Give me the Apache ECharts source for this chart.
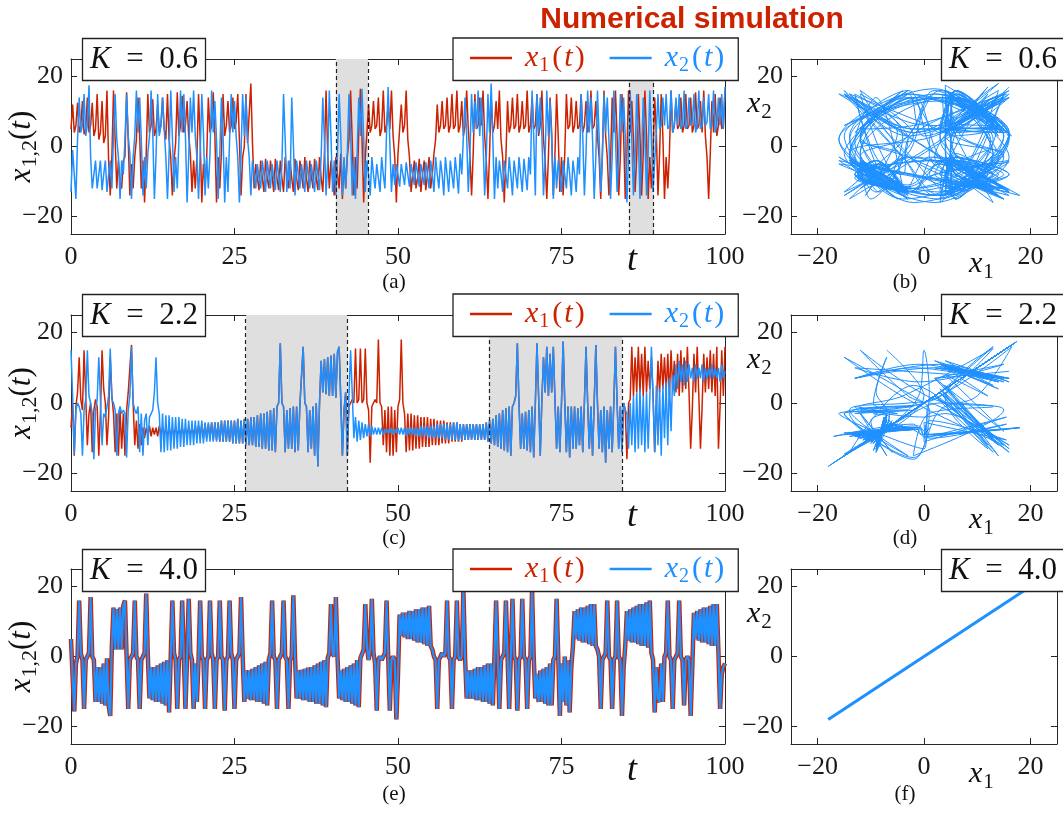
<!DOCTYPE html>
<html><head><meta charset="utf-8">
<script src="https://cdn.jsdelivr.net/npm/echarts@6/dist/echarts.min.js"></script>
<style>html,body{margin:0;padding:0;background:#fff}#c{width:1063px;height:813px}</style>
</head><body><div id="c"></div>
<script>
// ---------- data (sampled every DT time units, t = 0 .. 100) ----------
const DT = 0.25;
const timeTicks = [0, 25, 50, 75, 100];
const valueTicks = [-20, 0, 20];
const kValues = ['0.6', '2.2', '4.0'];
const panelTags = ['(a)', '(b)', '(c)', '(d)', '(e)', '(f)'];
const shadeA = [[40.5, 45.4], [85.3, 89.1]];
const shadeC = [[26.7, 42.3], [63.9, 84.3]];

// K = 0.6
const x1a = [
5,12,4, 6,12.5,4, 6,13,3.5, 5,14,4,
6,12.5,3, 5,15,2, 4,13,1, 3,16,-4,
-14,-3,16, 2,-12,-4, -10,-12,-4, -3,15.5,2,
-14,-5,-12, -3,2,14, 3,-12,-4, -16,-2,15,
4,6,13.5, 3,5,12, 4,6,14, 5,2,15,
2,-3,-14, -4,1,15.5, 3,6,14.5, 4,6,13,
3,-2,-13, -4,-12,-3, 15,2,-16, -5,-11,-3,
14,4,6, 15.5,3,-16, -3,-12,-2, 15,3,6,
13,4,6, 14,5,7, 15,2,-14, -3,0,15,
1,1,18, 1,-12,-5, -9,-12.5,-4, -9,-13,-3.5,
-9,-12,-4, -8.5,-13,-3.5, -9,-12.5,-4, -9,-13,-3,
-8.5,-12,-4, -9,-13,-3.5, -9,-12.5,-4, -8,-12,-3,
-9,-13,-4, -8.5,-12,-3.5, -9,-12.5,-3, -9,-13,-2,
16,-2,-12, -4,-9,-14, -3,-8,-12, -2,-15,-4,
-12,-3,2, 16,2,-14, -3,-12,4, 16.5,2,-16,
-3,4,12, 4,6,13, 5,6,14, 3,5,16,
4,6,12, 5,16,3, -3,-16,-2, 5,12,4,
6,16,2, -3,-13,-8, -4,-12,-9, -3.5,-13,-8,
-4,-12.5,-8, -3,-12,-8, -2,2,12, 4,6,13,
5,6,14, 4,6,15, 5,6,16, 4,6,13,
3,6,16, 5,-3,-14, -2,15,5, 6,14,6,
16,3,-4, -15,-2,14, 4,6,13, 5,16,2,
-3,-16,-3, 13,4,6, 14,5,6, 15,4,6,
13,5,6, 16,4,6, 14,5,6, 15,3,6,
16,2,-4, -15,-3,14, 4,-14,-2, 15,3,-13,
-3,-14,-2, 15,5,6, 14,4,6, 13,5,6,
15,4,6, 13,4,6, 16,5,6, 13,3,-3,
-15,-2,16, 3,-3,-14, -4,14,4, 16,3,-14,
-3,15,3, -15,-2,16, 4,13,2, -13,-3,15,
3,-14,-2, 16,3,-15, -3,-12,-3, 14,4,-14,
-2,15,3, -15,-3,-12, -2,16,4, 6,13,5,
6,14,4, 6,15,5, 6,14,4, 6,15.5,5,
6,13,4, 16,3,-3, -15,-2,13, 4,15,3,
6,14,5,6,16];
const x2a = [
-13,-1,-8, -15,2,14, 4,6,15, 3,6,17.5,
-3,-12,-8, -4,-12,-8, -4,-12.5,-8, -4,-13,-8,
-4,-12,3, 15,2,-3, -15,-4,-8, 2,15,3,
-2,-15,-3, 3,16,4, 14,2,-14, -3,-12,-2,
3,16,4, -15,-3,15, 3,6,14, 5,-3,-15,
-2,16,3, -13,-3,-12, 2,16,4, 15,3,-16,
-3,14,4, 16,3,-3, -15,-2,15, 4,-14,-3,
-12,-2,16, 4,13,2, -15,-2,14, 3,-16,-3,
-13,2,15, 4,13,3, -3,-16,-2, 15,3,14,
2,-3,-14, -4,-8,-12, -5,-9,-12, -4,-8,-13,
-4,-8,-12, -5,-9,-12.5, -4,-8,-13, -5,15,2,
-13,-4,-12, 14,1,-14, -4,-8,-12, -5,-9,-13,
-4,-8,-12, -5,-9,-13, -4,-8,-12.5, -3,14,2,
-14,-4,16, 3,-13,-4, -14,-2,15, 3,-14,-3,
-12,-2,15, 4,-14,-3, -15,-2,14, 3,16.5,2,
-13,-4,-8, -14,-3,-8, -12,-5,-9, -13,-3,-8,
-12,4,17, 1,-13,-5, -11,-5,-8, -11.5,-5,-8,
-11,-4.5,-8, -11.5,-5,-8, -11,-4.5,-8, -11.5,-5,-8,
-11,-4.5,-8, -12,-4,-8, -13,-3,-8, -12,-4,-8,
-14,-3,-8, -13,-4,-8, -12,-3,-8, -13.5,-2,-8,
3,14,3, -13,-2,15, 4,13,5, 16,3,14,
2,-14,-3, 15,4,18, 2,-15,-3, -12,-4,-8,
-13,-4,-8, -12,-3,-8, -14,-4,-8, -12,-3,-8,
-13,-3.5,-8, -12.5,-3,-8, 16,3,-14, 15,4,14,
3,-14,-3, 16,3,13, 2,-15,-3, -12,-4,-8,
-13,-4,-8, -12,-3,-8, -14,-4,-8, -13,-3,-8,
15,3,-14, -2,16,4, 14,2,-15, -3,16,3,
-13,-3,15, 4,14,2, -15,-3,16, 3,-13,-2,
15,4,14, 3,-16,-3, 16,2,-14, -3,15,3,
-15,-3,14, 4,-14,-2, 16,3,-13, -4,4,15,
5,6,14, 6,15,5, 6,16,4, 6,14,6,
15,5,6, 16,5,6, 14,6,7, 15,4,6,
16,5,6, 14,6,7, 15,5,6, 16,4,6,
14,6,15,5,17];

// K = 2.2
const x1c = [
-7,0,-15,-1, 3,13,1,-2, 15,2,-12,-3, 0,-14,-2,1, -1,-15,-3,15,
4,0,-12,-4, 13,2,-3,-14, -3,-15,-2,-13, -3,-15,-2,3, 10,16.5,0,-12,
-5,-13,-6,-12, -7,-10,-7,-9, -6.5,-9.5,-7,-9, -7,-9.5,-6.5,-9, -7,-9,-7,-9.5,
-7,-9,-7.5,-9, -7,-9,-7.5,-8.5, -7,-9,-7.5,-9, -7,-9,-7,-9, -6.5,-9.5,-6.5,-9.5,
-6,-10,-6,-10, -6,-10,-5.5,-10.5, -5.5,-10.5,-5.5,-11, -5,-11,-5,-11, -5,-11,-5,-11.5,
-5,-11.5,-4.5,-11.5, -5,-11.5,-4.5,-12, -4.5,-12,-4,-12, -4,-12.5,-3.5,-12.5, -3,-13,-3,-13,
-2.5,-13.5,-2,-13.5, -1.5,-14,-1,0, 17,0,-1,-14, -2,-13,-1.5,-13, -1,-14,-1,-13.5,
-0.5,0,16,0, -1,-14,-2,-13, -1,-15,0,-18, 0,12,3,12.5, 2.5,13,2,13.5,
2,14,1.5,14.5, 16,1,-15,-2, 3,-15,-1,0, 1,0,15.5,0, 1,15.5,0,1,
15.5,0,-2,-17, -1,0,1,0, 18,0,-1,-12, -2,-14,-1,-15, -1,-15,-2,-14,
-1,1,18,0, -3,-14,-3,-13.5, -3,-13.5,-3.5,-13, -3.5,-13,-4,-12.5, -4,-12.5,-4,-12.5,
-4.5,-12,-4.5,-12, -5,-12,-5,-11.5, -5,-11.5,-5.5,-11.5, -5.5,-11,-5.5,-11, -5.5,-11,-6,-11,
-6,-10.5,-6,-10.5, -6,-10.5,-6,-10.5, -6,-10.5,-6,-10.5, -6,-10.5,-5.5,-11, -5,-11.5,-4.5,-12,
-3.5,-12.5,-3,-13, -2,-13.5,-1.5,-14, -1,-15,-1,0, 2,17,0,-13, -3,-13,-2.5,-13.5,
-2,-14,-1,-15.5, 0,17,2,-15, 1,13,3,16, 2,14,3,16, 1,-13,-1,-14,
0,17.5,0,-14, -1,-15.5,-1,-13, -1,-13,-1.5,-12, -1,-14,0,16, 0,-13,-1,-15,
0,16.5,0,-13, -2,-14,-1,-17, -2,-13,-1,-14, 0,16,0,-13, -1,-14,0,-2,
-16,0,1,16, 2,13,3,16, 3,14,2,16, 3,12,4,13, 2,-14,-2,12,
3,14,4,13, 3,14,2,15, 4,12,3,14, 2,15,3,13, 4,16,3,-13,
-2,14,3,16, 2,-13,-1,14, 3,13,4,15, 3,14,2,16, -13,-1,15,2,
16];
const x2c = [
15,2,-14.5,-2, 0,-1,-3,-15, -2,1,15,2, 0,-3,-16,-2, 1,13,1,-12,
-3,-4,-1,2, 15.5,1,0,-2, -15,-3,-1,-3, -2,-3,-15.5,-2, 2,16,0,-2,
-3,-1,-14,-3, -15,-5,-3,-12, -4,-3,-2,3, 13,0,-3,-14, -3,-14,-3.5,-13.5,
-3.5,-13.5,-4,-13, -4,-13,-4,-12.5, -4.5,-12.5,-4.5,-12, -5,-12,-5,-12, -5,-11.5,-5,-11.5,
-5,-11.5,-5.5,-11, -5.5,-11,-5.5,-11, -5.5,-11,-5.5,-11, -5,-11,-5,-11, -5,-11,-5,-11.5,
-5,-11.5,-4.5,-11.5, -5,-11.5,-4.5,-12, -4.5,-12,-4,-12, -4,-12.5,-3.5,-12.5, -3,-13,-3,-13,
-2.5,-13.5,-2,-13.5, -1.5,-14,-1,0, 17,0,-1,-14, -2,-13,-1.5,-13, -1,-14,-1,-13.5,
-0.5,0,16,0, -1,-14,-2,-13, -1,-15,0,-18, 0,12,3,12.5, 2.5,13,2,13.5,
2,14,1.5,14.5, 16,1,-15,-2, 3,-15,2,15, 3,-10,-4,-11, -5,-10.5,-5.5,-10,
-6,-9.5,-6,-9.5, -6.5,-9,-7,-9, -7,-9,-7,-9, -7.5,-8.5,-7.5,-8.5, -7,-9,-7.5,-8.5,
-7,-9,-7,-9, -7,-9.5,-7,-9, -7,-9,-7,-9.5, -7,-9.5,-6.5,-9.5, -6.5,-9.5,-6.5,-10,
-6.5,-10,-6.5,-10, -6,-10,-6,-10, -6,-10.5,-6,-10.5, -6,-10.5,-5.5,-10.5, -5.5,-11,-6,-10.5,
-6,-10.5,-6,-10.5, -6,-10.5,-6,-10.5, -6,-10.5,-6,-10.5, -6,-10.5,-5.5,-11, -5,-11.5,-4.5,-12,
-3.5,-12.5,-3,-13, -2,-13.5,-1.5,-14, -1,-15,-1,0, 2,17,0,-13, -3,-13,-2.5,-13.5,
-2,-14,-1,-15.5, 0,17,2,-15, 1,13,3,16, 2,14,3,16, 1,-13,-1,-14,
0,17.5,0,-14, -1,-15.5,-1,-13, -1,-13,-1.5,-12, -1,-14,0,16, 0,-13,-1,-15,
0,16.5,0,-13, -2,-14,-1,-17, -2,-13,-1,-14, 0,16,0,-13, -1,-14,0,-2,
-3,-13,0,-12, 2,-14,3,-13, 4,-12,2,-14, 3,-13,1,16, 2,-14,5,-12,
4,-15,5,-10, 6,-12,7,-8, 8,2,11,4, 12,6,11,5, 12,6,11,7,
10,6,11,7, 10,7,11,6, 10,7,10,7, 11,7,10,7, 10,6,11,7,
9];

// K = 4.0
const x1e = [
5,-6,-15.7,-2, 0,16,1,-1, -15,-1,0,1, 17,0,-1,-13, -3,-13,-3,-13.5,
-2,-14,-0.5,-14, -17,3,14,2, 13.5,2,14,2, 14.5,16,0,-15, -1,0,1,16,
0,-1,-15,-1, 0,1,18,0, -12,-3,-12.5,-3, -13,-2.5,-13,-2, -13.5,-1.5,-14,-1,
-16,0,16,1, -1,-15,-1,0, 16,0,-15,0, 16.5,1,-1,-15, -2,-13,-1,16,
0,-1,-15,-1, 0,16,1,-1, -15,-1,0,16, 0,-1,-15.5,-1, 0,16,1,-1,
-15,-1,0,1, 17,0,-13,-4, -12,-4,-12.5,-3.5, -12.5,-3,-13,-2.5, -13,-2,-13.5,-1.5,
-14,-1,1,16, 0,-1,-15,-1, 0,1,16,0, -1,-15,-1,0, 17.5,0,-12,-4,
-12,-3.8,-12.5,-3.5, -12.5,-3.2,-13,-3, -13,-2.5,-13.5,-2, -13.5,-1.5,-14,-1, -14.5,-0.5,1,15,
1,0,17,0, -12,-4,-12.5,-3.5, -13,-3,-13,-2.5, -13.5,-2,-14,-1, -14.5,-0.5,0,2,
15,3,-1,2, 16.5,1,-2,-15.5, -1,0,-1,0, 1,16,0,-15.5, -1,0,-1,-18,
-5,12,6,12.5, 5.5,12.5,5,13, 5,13,4.5,13.5, 4,13.5,4,14, 3.5,14,3,14.5,
3,2,0,-1, -15,-1,0,1, 0,1,16,0, -1,-15,-1,0, 16,0,-1,0,
19,0,-12,-4, -12,-4,-12,-3.5, -12.5,-3,-12.5,-3, -13,-2.5,-13,-2, -13.5,-2,-14,0,
16,0,-15,-1, 0,1,16,0, -15,0,16.5,0, -1,-15.5,-1,0, 16.5,0,-1,-15,
-1,0,19,0, -12,-5,-13,-4, -13,-3.5,-13.5,-3, -14,-2,-14,-1, 0,16.5,0,-17,
-2,-13,0,-14, -1,-16,-3,3, 13,5,13.5,4.5, 14,4,14,4, 14.5,3.5,15,3,
15,3,2,0, -15,-1,0,1, 16,0,-1,-15, -1,0,16,0, -1,-17,-3,3,
13,4.5,13.5,4, 14,4,14.5,3.5, 15,3,15,3, 15.5,2.5,16,1, -1,-16,-3,-12,
-13,-2,-13,0, 1,16,0,-1, -15,-1,0,1, 16,0,-1,-14, -1,0,-1,-17,
-3,12.5,5,13, 4.5,13.5,4,14, 4,14,3.5,14.5, 3,15,3,15, 1,-15,-5,-3,
-2];
// at K = 4.0 the two units are synchronised: x2 traces exactly the same values as x1
const x2e = x1e.slice();

// ---------- styling ----------
const RED = '#cc2200', BLUE = '#1e90ff', AX = '#262626';
const SERIF = '"Liberation Serif","Times New Roman",serif';
const SANS = '"Liberation Sans",Arial,sans-serif';

function mathRich(size, color) {
  return {
    i: {fontFamily: SERIF, fontStyle: 'italic', fontWeight: 'normal', fontSize: size, color: color},
    u: {fontFamily: SERIF, fontStyle: 'normal', fontWeight: 'normal', fontSize: size, color: color},
    s: {fontFamily: SERIF, fontStyle: 'normal', fontWeight: 'normal', fontSize: Math.round(size * 0.7), color: color,
        padding: [Math.round(size * 0.55), 0, 0, 1]}
  };
}
const toSeries = arr => arr.map((v, i) => [i * DT, v]);
const toPhase = (a, b) => a.map((v, i) => [v, b[i]]);
const minus = v => String(v).replace('-', '\u2212');

const grids = [
  {left: 71, top: 59, width: 654, height: 175},
  {left: 791, top: 59, width: 266, height: 175},
  {left: 71, top: 315, width: 654, height: 176},
  {left: 791, top: 315, width: 266, height: 176},
  {left: 71, top: 569, width: 654, height: 175},
  {left: 791, top: 569, width: 266, height: 175}
];

const xAxes = [], yAxes = [];
grids.forEach((g, gi) => {
  const isTime = gi % 2 === 0;
  const xt = isTime ? timeTicks : valueTicks;
  const xmin = isTime ? 0 : -25, xmax = isTime ? 100 : 25;
  ['bottom', 'top'].forEach(pos => {
    xAxes.push({
      type: 'value', gridIndex: gi, position: pos, min: xmin, max: xmax,
      axisLine: {show: true, onZero: false, lineStyle: {color: AX, width: 1}},
      axisTick: {show: true, inside: true, length: 6, customValues: xt, lineStyle: {color: AX}},
      axisLabel: {show: pos === 'bottom', customValues: xt, formatter: minus, margin: 10,
                  fontFamily: SERIF, fontSize: 26, color: '#1a1a1a'},
      splitLine: {show: false}
    });
  });
  ['left', 'right'].forEach(pos => {
    const ax = {
      type: 'value', gridIndex: gi, position: pos, min: -25, max: 25,
      axisLine: {show: true, onZero: false, lineStyle: {color: AX, width: 1}},
      axisTick: {show: true, inside: true, length: 6, customValues: valueTicks, lineStyle: {color: AX}},
      axisLabel: {show: pos === 'left', customValues: valueTicks, formatter: minus, margin: 8,
                  fontFamily: SERIF, fontSize: 26, color: '#1a1a1a'},
      splitLine: {show: false}
    };
    if (pos === 'left' && isTime) {
      ax.name = '{i|x}{s|1,2}{u|(}{i|t}{u|)}';
      ax.nameLocation = 'middle';
      ax.nameRotate = 90;
      ax.nameGap = 30;
      ax.nameMoveOverlap = false;
      ax.nameTextStyle = {rich: mathRich(31, '#111')};
    }
    yAxes.push(ax);
  });
});

const series = [];
const timeData = [[x1a, x2a, shadeA], [x1c, x2c, shadeC], [x1e, x2e, null]];
timeData.forEach(([x1, x2, shade], k) => {
  const gi = 2 * k;
  const thickRed = k === 2;
  if (shade) {
    series.push({
      type: 'line', xAxisIndex: 2 * gi, yAxisIndex: 2 * gi, data: [[0, 0]], symbol: 'none',
      lineStyle: {opacity: 0}, silent: true, z: 1,
      markArea: {silent: true, itemStyle: {color: '#e0dfe0', borderWidth: 0},
        data: shade.map(([a, b]) => [{xAxis: a, yAxis: -25}, {xAxis: b, yAxis: 25}])},
      markLine: {silent: true, symbol: 'none', label: {show: false},
        lineStyle: {color: '#222', width: 1.2, type: [4, 3]},
        data: shade.flat().map(v => ({xAxis: v}))}
    });
  }
  series.push({
    name: 'x1', type: 'line', xAxisIndex: 2 * gi, yAxisIndex: 2 * gi, data: toSeries(x1),
    symbol: 'none', showSymbol: false, z: 3,
    lineStyle: {color: RED, width: thickRed ? 4.5 : 1.5}, itemStyle: {color: RED}
  });
  series.push({
    name: 'x2', type: 'line', xAxisIndex: 2 * gi, yAxisIndex: 2 * gi, data: toSeries(x2),
    symbol: 'none', showSymbol: false, z: 4,
    lineStyle: {color: BLUE, width: thickRed ? 2.2 : 1.5}, itemStyle: {color: BLUE}
  });
  const pi = gi + 1;
  series.push({
    name: 'phase' + k, type: 'line', xAxisIndex: 2 * pi, yAxisIndex: 2 * pi, data: toPhase(x1, x2),
    symbol: 'none', showSymbol: false, smooth: k === 2 ? false : 0.35, z: 3,
    lineStyle: {color: BLUE, width: k === 2 ? 3 : 1}, itemStyle: {color: BLUE}
  });
});

function legRich(prefix, color) {
  const o = {};
  o[prefix + '0'] = {fontFamily: SERIF, fontStyle: 'italic', fontWeight: 'normal', fontSize: 30, color: color, padding: [0, 0, 0, 8]};
  o[prefix + 'i'] = {fontFamily: SERIF, fontStyle: 'italic', fontWeight: 'normal', fontSize: 30, color: color, padding: [0, 2, 0, 2]};
  o[prefix + 'u'] = {fontFamily: SERIF, fontStyle: 'normal', fontWeight: 'normal', fontSize: 30, color: color};
  o[prefix + 's'] = {fontFamily: SERIF, fontStyle: 'normal', fontWeight: 'normal', fontSize: 20, color: color, padding: [15, 3, 0, 1]};
  return o;
}
const legendRich = Object.assign({}, legRich('r', RED), legRich('b', BLUE));
const boxTops = [38, 294, 549];
const legends = boxTops.map(top => ({
  data: ['x1', 'x2'], left: 453, top: top, orient: 'horizontal', selectedMode: false,
  borderColor: '#222', borderWidth: 1.3, backgroundColor: '#fff', padding: [5, 14, 5, 17],
  icon: 'rect', itemWidth: 42, itemHeight: 2.5, itemGap: 25, z: 10,
  formatter: n => n === 'x1' ? '{r0|x}{rs|1}{ru|(}{ri|t}{ru|)}' : '{b0|x}{bs|2}{bu|(}{bi|t}{bu|)}',
  textStyle: {rich: legendRich}
}));

const titles = [];
titles.push({text: 'Numerical simulation', left: 687, top: 0, textAlign: 'center', z: 10,
  textStyle: {fontFamily: SANS, fontWeight: 'bold', fontSize: 30, color: RED}});
const kRich = {i: {fontFamily: SERIF, fontStyle: 'italic', fontWeight: 'normal', fontSize: 31, color: '#111'},
               u: {fontFamily: SERIF, fontStyle: 'normal', fontWeight: 'normal', fontSize: 31, color: '#111'}};
kValues.forEach((kv, k) => {
  [82, 941].forEach(left => {
    titles.push({text: '{i|K}{u|  =  ' + kv + '}', left: left, top: boxTops[k], z: 10,
      padding: [6, 8, 6, 8], borderColor: '#222', borderWidth: 1.3, backgroundColor: '#fff',
      textStyle: {rich: kRich}});
  });
});
const tagTops = [272, 528, 784];
panelTags.forEach((tag, i) => {
  titles.push({text: tag, left: i % 2 === 0 ? 394 : 905, top: tagTops[Math.floor(i / 2)], textAlign: 'center',
    padding: 0, textStyle: {fontFamily: SERIF, fontWeight: 'normal', fontSize: 21, color: '#111'}});
});
const axRich = mathRich(30, '#111');
[0, 1, 2].forEach(k => {
  const gTop = grids[2 * k].top;
  titles.push({text: '{t|t}', left: 632, top: gTop + 184, textAlign: 'center', padding: 0,
    textStyle: {rich: {t: {fontFamily: SERIF, fontStyle: 'italic', fontWeight: 'normal', fontSize: 36, color: '#111'}}}});
  titles.push({text: '{i|x}{s|2}', left: 747, top: gTop + 26, padding: 0, textStyle: {rich: axRich}});
  titles.push({text: '{i|x}{s|1}', left: 969, top: gTop + 186, padding: 0, textStyle: {rich: axRich}});
});

const chart = echarts.init(document.getElementById('c'), null, {renderer: 'canvas', width: 1063, height: 813});
chart.setOption({
  animation: false,
  backgroundColor: '#fff',
  title: titles,
  legend: legends,
  grid: grids.map(g => Object.assign({containLabel: false, outerBoundsMode: 'none'}, g)),
  xAxis: xAxes,
  yAxis: yAxes,
  series: series
});
</script></body></html>
